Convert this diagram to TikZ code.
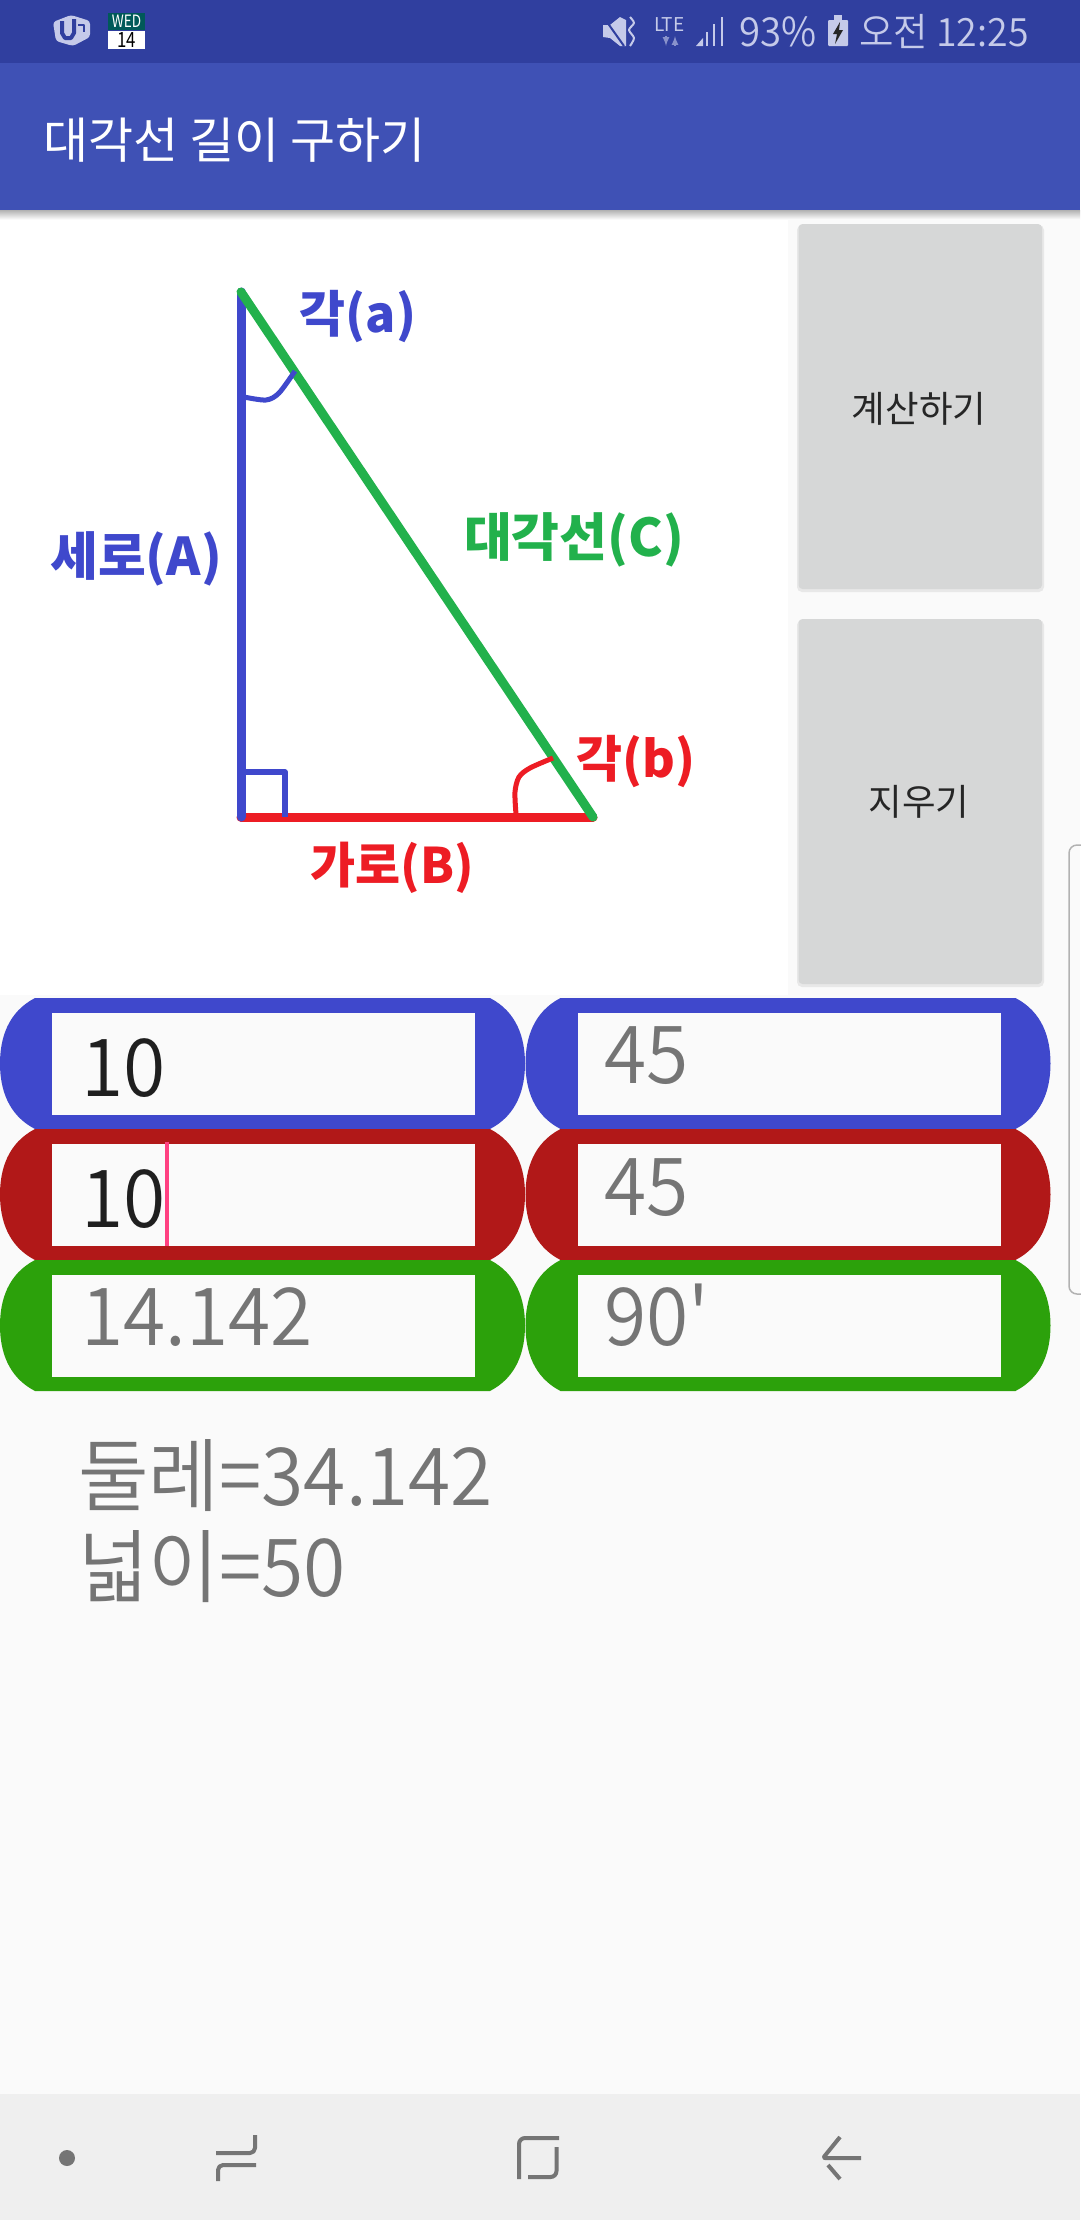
\documentclass[tikz,border=0pt]{standalone}
\usepackage{fontspec}
\setmainfont{Noto Sans CJK KR}
\newfontfamily\thinfont[FakeStretch=0.96]{Noto Sans CJK KR DemiLight}
\newfontfamily\tightfont[FakeStretch=0.8]{Noto Sans CJK KR}
\newcommand{\fsz}[1]{\fontsize{#1}{#1}\selectfont}
\definecolor{statusbar}{HTML}{303F9F}
\definecolor{appbar}{HTML}{3F51B5}
\definecolor{pagebg}{HTML}{FAFAFA}
\definecolor{btnfill}{HTML}{D6D7D7}
\definecolor{navbar}{HTML}{EFEFEF}
\definecolor{navicon}{HTML}{757575}
\definecolor{hint}{HTML}{757575}
\definecolor{lavender}{HTML}{C5CAE9}
\definecolor{caret}{HTML}{FF4081}
\definecolor{penblue}{HTML}{3F48CC}
\definecolor{pengreen}{HTML}{22B14C}
\definecolor{penred}{HTML}{ED1C24}
\definecolor{pillblue}{HTML}{3F48CC}
\definecolor{pillred}{HTML}{B11818}
\definecolor{pillgreen}{HTML}{2CA10B}
\tikzset{
	edgetext/.style={anchor=base west, inner sep=0pt, font=\thinfont\fsz{80}},
	penlabel/.style={anchor=center, inner sep=0pt, font=\bfseries\fsz{#1}},
	penlabel/.default=50,
	btn/.style={draw=none, fill=btnfill, rounded corners=4pt},
	btnshadow/.style={draw=none, fill=black!9, rounded corners=5pt},
	btntext/.style={anchor=center, inner sep=0pt, text=black!85, font=\fsz{36.5}},
	barstat/.style={anchor=base west, inner sep=0pt, text=lavender},
	navstroke/.style={draw=navicon, line width=4pt}
}
\begin{document}
\begin{tikzpicture}[x=1pt,y=-1pt,line cap=butt,line join=round]
	\useasboundingbox (0,0) rectangle (1080,2220);
	\fill[pagebg] (0,0) rectangle (1080,2220);
	\fill[white] (0,210) rectangle (788,995);

	% bars on top
	\fill[statusbar] (0,0) rectangle (1080,63);
	\fill[appbar] (0,63) rectangle (1080,210);
	\shade[top color=black!30, bottom color=pagebg] (0,210) rectangle (1080,219);
	\node[anchor=base west, inner sep=0pt, text=white, font=\fsz{49}] (title) at (43,158) {대각선 길이 구하기};

	% status icons
	\fill[lavender, rounded corners=3pt] (53,22) -- (71,15) -- (90,21) -- (90,37) -- (73,46) -- (56,41) -- cycle;
	\draw[statusbar, line width=4pt] (62,21) -- (62,33) -- (65,38) -- (71,38) -- (74,33) -- (74,19);
	\draw[statusbar, line width=2pt] (78,25) -- (84,25) -- (84,32);
	\fill[teal!70!black] (108,13) rectangle (145,30);
	\fill[white] (108,31) rectangle (145,49);
	\node[anchor=center, inner sep=0pt, text=white, font=\tightfont\fsz{17}] (calday) at (126.5,21.5) {WED};
	\node[anchor=center, inner sep=0pt, text=black, font=\tightfont\fsz{21}] (caldate) at (126.5,40) {14};
	\fill[lavender] (603,25) -- (610,25) -- (620,17) -- (626,20) -- (626,46) -- (620,46) -- (610,38) -- (603,37) -- cycle;
	\draw[statusbar, line width=2pt] (602,15) -- (624,46);
	\draw[lavender, line width=2pt] plot[smooth] coordinates {(630,17) (634,23) (629,30) (634,38) (630,46)};
	\node[barstat, font=\fsz{19}] (lte) at (654,31) {LTE};
	\draw[lavender!60!statusbar, line width=2pt, -latex] (666,36) -- (666,46);
	\draw[lavender!60!statusbar, line width=2pt, latex-] (675,36) -- (675,46);
	\fill[lavender] (696,46) -- (703,38) -- (703,46) -- cycle;
	\foreach \i/\j in {707/32,714/24,722/17}{
		\draw[lavender, line width=2pt] (\i,46) -- (\i,\j);}
	\node[barstat, font=\thinfont\fsz{40}] (pct) at (739,46) {93\%};
	\fill[lavender, rounded corners=1pt] (828,20) rectangle (848,46);
	\fill[lavender] (834,15) rectangle (842,20);
	\fill[black!85] (840,22) -- (833,34) -- (837,34) -- (835,44) -- (843,30) -- (839,30) -- cycle;
	\node[barstat, font=\thinfont\fsz{39}] (clock) at (859,46) {오전 12:25};

	% triangle picture
	\coordinate (apex) at (241,292);
	\coordinate (corner) at (241,817);
	\coordinate (tip) at (593,817);
	\draw[penred, line width=9pt, line cap=round] (corner) -- (tip);
	\draw[penblue, line width=9pt, line cap=round] (apex) -- (corner);
	\draw[penblue, line width=5.5pt] (243,772) -- (285,772) -- (285,817);
	\draw[pengreen, line width=9pt, line cap=round] (apex) -- (tip);
	\draw[penblue, line width=5pt] plot[smooth] coordinates {(244,397) (266,400) (279,393) (295,371)};
	\draw[penred, line width=5pt] plot[smooth] coordinates {(553,758) (530,768) (519,777) (515,792) (516,814)};
	\node[penlabel, text=penblue] (anglea) at (358,317) {각(a)};
	\node[penlabel=52, text=penblue] (heightlbl) at (136,559) {세로(A)};
	\node[penlabel=52, text=pengreen] (diaglbl) at (574,540) {대각선(C)};
	\node[penlabel, text=penred] (angleb) at (636,762) {각(b)};
	\node[penlabel=49, text=penred] (widthlbl) at (392,868) {가로(B)};

	% buttons
	\fill[btnshadow] (797,225) rectangle (1044,592);
	\fill[btnshadow] (797,620) rectangle (1044,987);
	\fill[btn] (798.5,224) rectangle (1042,589);
	\fill[btn] (798.5,619) rectangle (1042,984);
	\node[btntext] (calcbtn) at (919,409) {계산하기};
	\node[btntext] (clearbtn) at (919,802) {지우기};

	% edge handle
	\draw[black!30, line width=1.5pt, rounded corners=8pt] (1081,845) -- (1069,845) -- (1069,1294) -- (1081,1294);

	% the six input rows
	\foreach \y/\c in {998/pillblue,1129/pillred,1260/pillgreen}{
		\foreach \x in {0,525.5}{
			\fill[\c] (\x+35,\y) -- (\x+490,\y)
				.. controls (\x+517,\y+14) and (\x+525,\y+40) .. (\x+525,\y+65.5)
				.. controls (\x+525,\y+91) and (\x+517,\y+117) .. (\x+490,\y+131)
				-- (\x+35,\y+131)
				.. controls (\x+8,\y+117) and (\x,\y+91) .. (\x,\y+65.5)
				.. controls (\x,\y+40) and (\x+8,\y+14) .. (\x+35,\y) -- cycle;
			\fill[pagebg] (\x+52,\y+15) rectangle (\x+475,\y+117);}}
	\node[edgetext, text=black!88] (vala) at (81,1096) {10};
	\node[edgetext, text=black!88] (valb) at (81,1227) {10};
	\node[edgetext, text=hint] (valc) at (81,1345) {14.142};
	\node[edgetext, text=hint] (anga) at (604,1083) {45};
	\node[edgetext, text=hint] (angb) at (604,1215) {45};
	\node[edgetext, text=hint] (angc) at (604,1345) {90'};
	\fill[caret] (164.5,1142) rectangle (168.5,1246);

	% results
	\node[edgetext, text=hint] (girth) at (78,1505) {둘레=34.142};
	\node[edgetext, text=hint] (area) at (78,1596) {넓이=50};

	% nav bar
	\fill[navbar] (0,2094) rectangle (1080,2220);
	\fill[navicon] (67,2158) circle (8pt);
	\draw[navstroke, rounded corners=5pt] (255,2135) -- (255,2153) -- (216,2153);
	\draw[navstroke, rounded corners=5pt] (256,2165) -- (218,2165) -- (218,2181);
	\draw[navstroke, rounded corners=6pt] (559,2138) -- (519,2138) -- (519,2179);
	\draw[navstroke, rounded corners=6pt] (556.5,2147) -- (556.5,2177) -- (528,2177);
	\draw[navstroke, rounded corners=2pt] (840,2137) -- (823,2158) -- (861,2158);
	\draw[navstroke] (828,2165) -- (840,2179);
\end{tikzpicture}
\end{document}
